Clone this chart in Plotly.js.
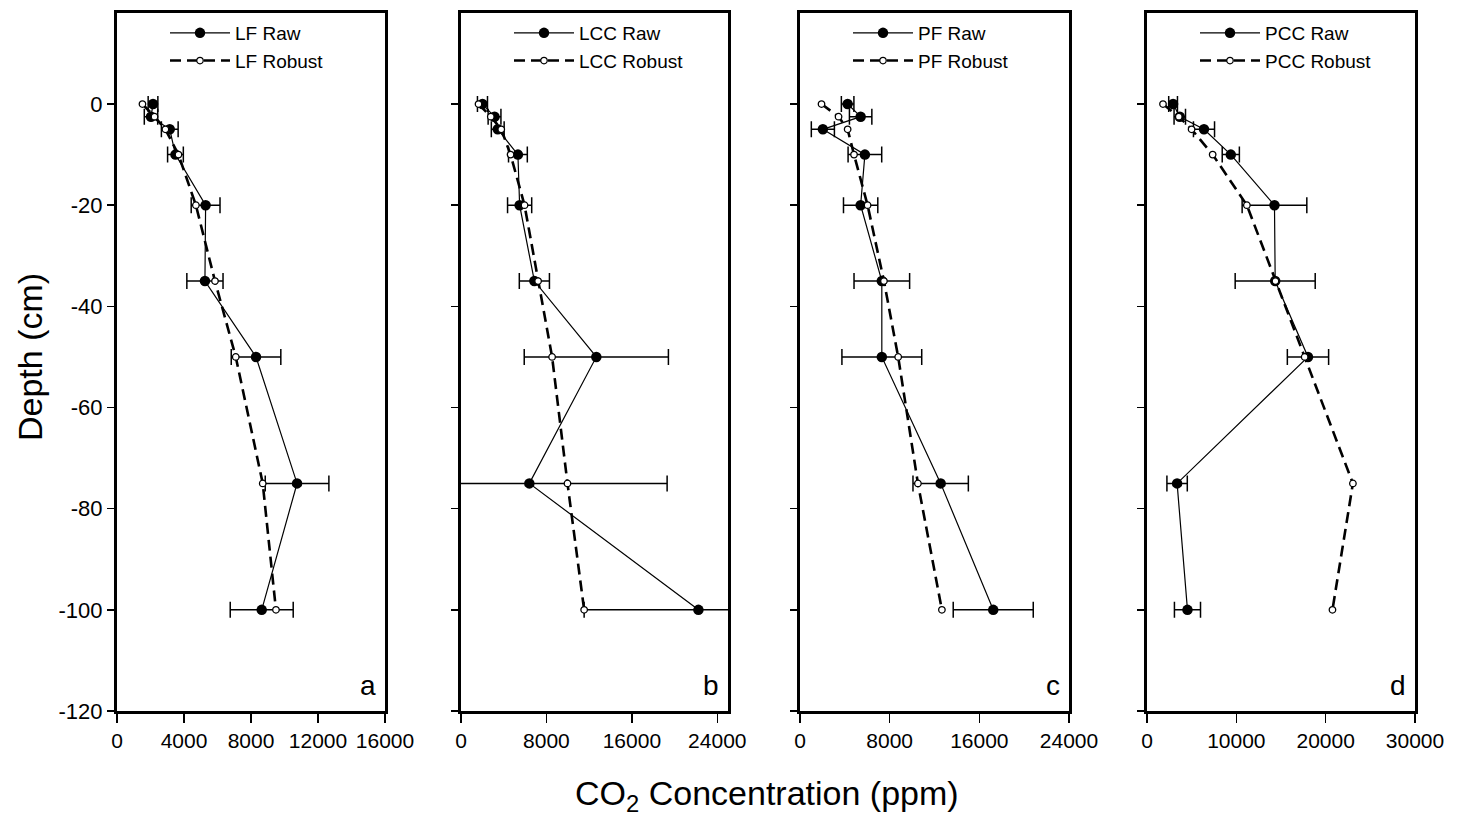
<!DOCTYPE html>
<html>
<head>
<meta charset="utf-8">
<script src="https://cdn.plot.ly/plotly-3.0.1.min.js"></script>
<style>html,body{margin:0;padding:0;background:#fff;}#chart{width:1465px;height:829px;}</style>
</head>
<body>
<div id="chart"></div>
<script>
const depth = [0, -2.5, -5, -10, -20, -35, -50, -75, -100];

const lfRaw = [2150, 2030, 3150, 3490, 5290, 5250, 8300, 10750, 8640];
const lfRawErr = [290, 400, 500, 470, 860, 1080, 1480, 1900, 1880];
const lfRobust = [1520, 2240, 2890, 3670, 4710, 5850, 7090, 8700, 9490];

const lccRaw = [2010, 3140, 3440, 5330, 5490, 6870, 12670, 6400, 22230];
const lccRawErr = [470, 600, 600, 880, 1130, 1410, 6750, 12900, 10700];
const lccRobust = [1640, 2790, 3770, 4640, 5950, 7220, 8530, 9970, 11530];

const pfRaw = [4250, 5410, 2040, 5790, 5410, 7300, 7300, 12550, 17240];
const pfRawErr = [560, 1000, 1030, 1500, 1530, 2480, 3560, 2470, 3570];
const pfRobust = [1920, 3440, 4250, 4820, 6030, 7490, 8760, 10520, 12660];

const pccRaw = [2920, 3670, 6380, 9380, 14270, 14350, 18020, 3370, 4530];
const pccRawErr = [490, 640, 1180, 960, 3620, 4480, 2310, 1140, 1460];
const pccRobust = [1790, 3560, 4990, 7350, 11180, 14380, 17650, 23050, 20760];

const panelNames = ["LF", "LCC", "PF", "PCC"];
const panelLetters = ["a", "b", "c", "d"];
const xTickVals = [
  [0, 4000, 8000, 12000, 16000],
  [0, 8000, 16000, 24000],
  [0, 8000, 16000, 24000],
  [0, 10000, 20000, 30000]
];
const xRanges = [[0, 16000], [0, 25000], [0, 24000], [0, 30000]];
const yTickVals = [0, -20, -40, -60, -80, -100, -120];
const yTickText = ["0", "-20", "-40", "-60", "-80", "-100", "-120"];

const rawSets = [lfRaw, lccRaw, pfRaw, pccRaw];
const errSets = [lfRawErr, lccRawErr, pfRawErr, pccRawErr];
const robSets = [lfRobust, lccRobust, pfRobust, pccRobust];

const W = 1465, H = 829;
const px = [[117, 385], [461, 728], [800, 1069], [1147, 1415]];
const yDom = [1 - 711 / H, 1 - 13 / H];
const FONT = "Liberation Sans, Arial, sans-serif";

const traces = [];
const layout = {
  width: W, height: H,
  margin: {l: 0, r: 0, t: 0, b: 0},
  paper_bgcolor: "#fff", plot_bgcolor: "#fff",
  font: {family: FONT, color: "#000"},
  showlegend: true,
  annotations: [],
};

for (let i = 0; i < 4; i++) {
  const sfx = i === 0 ? "" : String(i + 1);
  const xa = "x" + sfx, ya = "y" + sfx;
  const leg = "legend" + sfx;
  traces.push({
    type: "scatter", mode: "lines+markers",
    x: rawSets[i], y: depth, xaxis: xa, yaxis: ya,
    name: panelNames[i] + " Raw", legend: leg,
    line: {color: "#000", width: 1.2},
    marker: {symbol: "circle", size: 10.5, color: "#000"},
    error_x: {type: "data", array: errSets[i], visible: true, color: "#000", thickness: 1.5, width: 8}
  });
  traces.push({
    type: "scatter", mode: "lines+markers",
    x: robSets[i], y: depth, xaxis: xa, yaxis: ya,
    name: panelNames[i] + " Robust", legend: leg,
    line: {color: "#000", width: 2.6, dash: "11px,6px"},
    marker: {symbol: "circle", size: 6.5, color: "#fff", line: {color: "#000", width: 1.3}}
  });
  layout["xaxis" + sfx] = {
    domain: [px[i][0] / W, px[i][1] / W],
    anchor: ya, range: xRanges[i],
    tickvals: xTickVals[i], tickformat: "d",
    ticks: "outside", ticklen: 9, tickwidth: 1.5, tickcolor: "#000",
    showline: true, linewidth: 3, linecolor: "#000", mirror: true,
    showgrid: false, zeroline: false,
    tickfont: {family: FONT, size: 21, color: "#000"}
  };
  layout["yaxis" + sfx] = {
    domain: yDom, anchor: xa, range: [-120, 18],
    tickvals: yTickVals, ticktext: yTickText, showticklabels: i === 0,
    ticks: "outside", ticklen: 7, tickwidth: 1.5, tickcolor: "#000",
    showline: true, linewidth: 3, linecolor: "#000", mirror: true,
    showgrid: false, zeroline: false,
    tickfont: {family: FONT, size: 22, color: "#000"}
  };
  layout[leg] = {
    x: (px[i][0] + 48) / W, xanchor: "left",
    y: 1 - 14 / H, yanchor: "top",
    bgcolor: "rgba(0,0,0,0)", borderwidth: 0,
    font: {family: FONT, size: 19, color: "#000"},
    itemwidth: 60, tracegroupgap: 0
  };
  layout.annotations.push({
    xref: "paper", yref: "paper",
    x: (px[i][1] - 7) / W, y: 1 - 703 / H,
    xanchor: "right", yanchor: "bottom",
    text: panelLetters[i], showarrow: false,
    font: {family: FONT, size: 28, color: "#000"}
  });
}

layout.annotations.push({
  xref: "paper", yref: "paper", x: 30 / W, y: 1 - 357 / H,
  xanchor: "center", yanchor: "middle", textangle: -90,
  text: "Depth (cm)", showarrow: false,
  font: {family: FONT, size: 34, color: "#000"}
});
layout.annotations.push({
  xref: "paper", yref: "paper", x: 767 / W, y: 1 - 795 / H,
  xanchor: "center", yanchor: "middle",
  text: "CO<sub>2</sub> Concentration (ppm)", showarrow: false,
  font: {family: FONT, size: 34, color: "#000"}
});

Plotly.newPlot("chart", traces, layout, {displayModeBar: false, staticPlot: true});
</script>
</body>
</html>
